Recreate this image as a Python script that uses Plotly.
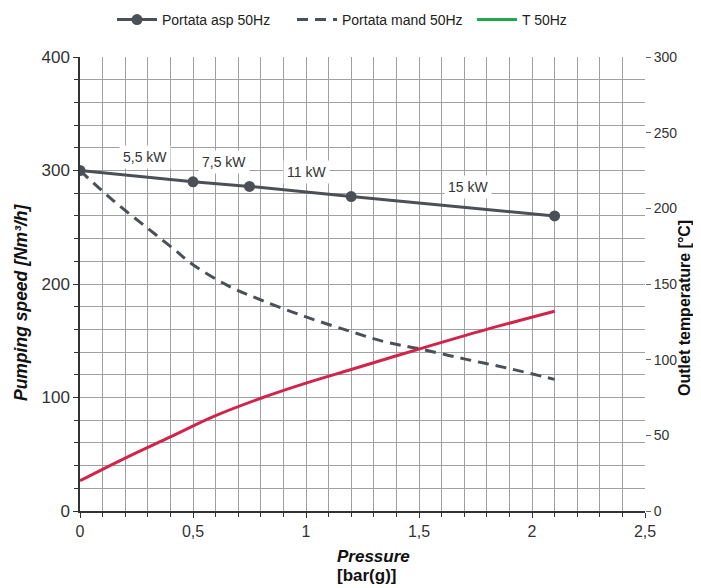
import plotly.graph_objects as go

# Portata asp 50Hz (left axis, Nm3/h)
asp_x = [0, 0.5, 0.75, 1.2, 2.1]
asp_y = [300, 290, 286, 277, 260]

# Portata mand 50Hz (left axis, Nm3/h)
mand_x = [0, 0.15, 0.3, 0.42, 0.5, 0.65, 0.8, 1.0, 1.2, 1.35, 1.5, 1.7, 1.9, 2.1]
mand_y = [300, 273, 249, 230, 217, 199, 186, 171, 158, 149, 143, 134, 125.5, 116]

# T 50Hz (right axis, °C)
t_x = [0, 0.2, 0.4, 0.6, 0.8, 1.0, 1.2, 1.5, 1.8, 2.1]
t_y = [20, 35, 49, 63, 74.5, 84.5, 93.5, 107, 120, 132]

# power labels
kw_labels = ["5,5 kW", "7,5 kW", "11 kW", "15 kW"]
kw_x = [0.288, 0.637, 1.0, 1.717]
kw_y = [312, 307.5, 298.7, 285.5]

x_ticks = [0, 0.5, 1, 1.5, 2, 2.5]
x_ticktext = ["0", "0,5", "1", "1,5", "2", "2,5"]
y_ticks = [0, 100, 200, 300, 400]
y2_ticks = [0, 50, 100, 150, 200, 250, 300]

GRAY = "#4b5057"
RED = "#d2234b"
GREEN = "#1fa84f"
FONT = "Liberation Sans, Arial, sans-serif"

fig = go.Figure()
fig.add_trace(go.Scatter(x=asp_x, y=asp_y, mode="lines+markers", name="Portata asp 50Hz",
                         line=dict(color=GRAY, width=3), marker=dict(size=11, color=GRAY)))
fig.add_trace(go.Scatter(x=mand_x, y=mand_y, mode="lines", name="Portata mand 50Hz",
                         line=dict(color=GRAY, width=3, dash="11px,7px", shape="spline")))
fig.add_trace(go.Scatter(x=t_x, y=t_y, mode="lines", name="T 50Hz", yaxis="y2",
                         line=dict(color=RED, width=3, shape="spline"), showlegend=False))
fig.add_trace(go.Scatter(x=[None], y=[None], mode="lines", name="T 50Hz", yaxis="y2",
                         line=dict(color=GREEN, width=3)))

annotations = []
for t, xx, yy in zip(kw_labels, kw_x, kw_y):
    annotations.append(dict(x=xx, y=yy, xref="x", yref="y", text=t, showarrow=False,
                            font=dict(size=14, color="#333", family=FONT),
                            bgcolor="white", borderpad=3))

annotations += [
    dict(x=(21 - 80) / 565, y=(511 - 302) / 454, xref="paper", yref="paper",
         xanchor="center", yanchor="middle",
         text="<b><i>Pumping speed [Nm³/h]</i></b>", textangle=-90, showarrow=False,
         font=dict(size=17.5, color="#111", family=FONT)),
    dict(x=(684 - 80) / 565, y=(511 - 308) / 454, xref="paper", yref="paper",
         xanchor="center", yanchor="middle",
         text="<b>Outlet temperature [°C]</b>", textangle=-90, showarrow=False,
         font=dict(size=16, color="#111", family=FONT)),
    dict(x=(335 - 80) / 565, y=(511 - 556) / 454, xref="paper", yref="paper",
         xanchor="left", yanchor="middle",
         text="<b><i>Pressure</i></b>", showarrow=False,
         font=dict(size=17, color="#111", family=FONT)),
    dict(x=(335 - 80) / 565, y=(511 - 575) / 454, xref="paper", yref="paper",
         xanchor="left", yanchor="middle",
         text="<b>[bar(g)]</b>", showarrow=False,
         font=dict(size=17, color="#111", family=FONT)),
]

W, H = 685, 580
fig.update_layout(
    width=W, height=H,
    margin=dict(l=72, r=W - 72 - 565, t=49, b=H - 49 - 454, autoexpand=False),
    paper_bgcolor="white", plot_bgcolor="white",
    font=dict(family=FONT, color="#333"),
    showlegend=True,
    legend=dict(orientation="h", x=104 / W, xanchor="left", y=1 - 12 / H, yanchor="middle",
                yref="container", xref="container",
                font=dict(size=14, color="#222", family=FONT), itemwidth=40,
                entrywidth=125, entrywidthmode="pixels",
                bgcolor="rgba(0,0,0,0)"),
    xaxis=dict(range=[0, 2.5], tickvals=x_ticks, ticktext=x_ticktext, automargin=False,
               showgrid=True, gridcolor="#a0a0a0", gridwidth=1,
               showline=True, linecolor="#333", linewidth=1.5,
               ticks="outside", ticklen=5, tickcolor="#333",
               minor=dict(dtick=0.1, tick0=0, showgrid=True, gridcolor="#a0a0a0", gridwidth=1,
                          ticks="outside", ticklen=4, tickcolor="#333"),
               tickfont=dict(size=16, color="#333", family=FONT), zeroline=False, fixedrange=True),
    yaxis=dict(range=[0, 400], tickvals=y_ticks, automargin=False,
               showgrid=True, gridcolor="#a0a0a0", gridwidth=1,
               showline=True, linecolor="#333", linewidth=1.5,
               ticks="outside", ticklen=5, tickcolor="#333",
               minor=dict(dtick=20, tick0=0, showgrid=True, gridcolor="#a0a0a0", gridwidth=1,
                          ticks="outside", ticklen=4, tickcolor="#333"),
               tickfont=dict(size=17, color="#333", family=FONT), zeroline=False, fixedrange=True),
    yaxis2=dict(range=[0, 300], tickvals=y2_ticks, overlaying="y", side="right", automargin=False,
                showgrid=False, showline=False, zeroline=False,
                ticks="outside", ticklen=5, tickcolor="#666",
                tickfont=dict(size=14, color="#333", family=FONT), fixedrange=True),
    annotations=annotations,
)

fig.write_html("out.html")
